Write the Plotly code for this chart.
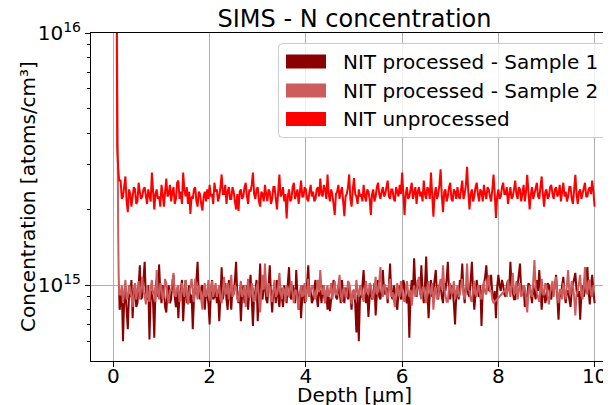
import plotly.graph_objects as go

# ---------------- data (concentration in units of 1e15 atoms/cm^3) ----------------
SCALE = 1e15
GRID_START = 0.15   # µm, first point of the regular depth grid
GRID_STEP = 0.025   # µm

# initial surface spike (leading points)
HEAD_DEPTH_UNPROC = [0.06, 0.07, 0.075, 0.08, 0.10, 0.12]
HEAD_UNPROC = [40.0, 10.0, 5.0, 3.5, 2.9, 2.6]
HEAD_DEPTH_S2 = [0.06, 0.075, 0.09, 0.10, 0.11, 0.12]
HEAD_S2 = [30.0, 6.0, 2.4, 1.6, 1.1, 0.92]
HEAD_DEPTH_S1 = [0.12, 0.13]
HEAD_S1 = [0.95, 0.80]

UNPROC = [
    2.60, 2.20, 2.25, 2.50, 2.70, 2.15, 1.95, 2.40, 2.30, 2.05, 2.20, 2.45, 2.40, 2.10, 2.15, 2.55, 2.35, 2.20, 2.25, 2.40,
    2.45, 2.20, 2.10, 2.40, 2.30, 2.15, 2.80, 2.35, 2.00, 2.30, 2.40, 2.20, 2.25, 2.05, 2.50, 2.30, 2.05, 2.35, 2.65, 2.25,
    2.30, 2.50, 2.15, 2.35, 2.45, 2.10, 2.20, 2.55, 2.60, 2.20, 2.35, 2.10, 2.80, 2.40, 2.25, 2.45, 2.10, 2.35, 1.92, 2.25,
    2.20, 2.40, 2.45, 2.15, 2.05, 2.35, 2.30, 2.10, 1.98, 2.25, 2.35, 2.15, 2.40, 2.20, 2.50, 2.25, 2.30, 2.10, 2.55, 2.35,
    2.40, 2.15, 2.25, 2.45, 2.75, 2.30, 2.30, 2.50, 2.10, 2.35, 2.45, 2.20, 2.20, 2.45, 2.35, 2.15, 2.00, 2.30, 1.97, 2.35,
    2.40, 2.20, 2.25, 2.45, 2.55, 2.25, 2.10, 2.40, 2.35, 2.50, 2.80, 2.30, 2.20, 2.40, 2.45, 2.15, 2.05, 2.35, 2.30, 2.15,
    2.50, 2.30, 2.15, 2.40, 2.35, 2.10, 2.20, 2.45, 2.45, 2.20, 2.00, 2.35, 2.75, 2.25, 2.30, 2.45, 2.15, 2.30, 1.84, 2.25,
    2.40, 2.15, 2.20, 2.45, 2.55, 2.20, 2.30, 2.40, 2.10, 2.35, 2.60, 2.25, 2.25, 2.45, 2.40, 2.20, 2.15, 2.35, 2.50, 2.25,
    2.35, 2.15, 2.20, 2.40, 2.45, 2.25, 2.65, 2.30, 2.25, 2.50, 2.40, 2.20, 2.75, 2.30, 2.15, 2.40, 2.30, 2.10, 1.90, 2.30,
    2.35, 2.50, 2.20, 2.35, 2.45, 2.15, 1.88, 2.25, 2.30, 2.45, 2.75, 2.20, 2.05, 2.40, 2.66, 2.30, 2.25, 2.10, 2.40, 2.25,
    2.30, 2.15, 2.50, 2.25, 2.15, 2.40, 2.35, 2.20, 1.90, 2.30, 2.40, 2.15, 2.25, 2.45, 2.55, 2.30, 2.20, 2.35, 2.45, 2.25,
    2.30, 2.45, 2.60, 2.25, 2.20, 2.40, 2.40, 2.20, 2.15, 2.45, 2.35, 2.25, 2.50, 2.30, 2.80, 2.35, 1.90, 2.30, 2.45, 2.20,
    2.25, 2.40, 2.55, 2.20, 2.30, 2.45, 2.10, 2.35, 2.45, 2.25, 2.35, 2.15, 2.60, 2.30, 2.20, 2.45, 2.40, 2.20, 2.80, 2.30,
    1.87, 2.30, 2.45, 2.20, 2.30, 2.50, 2.88, 2.25, 1.95, 2.35, 2.40, 2.15, 2.25, 2.45, 2.55, 2.20, 2.15, 2.40, 2.35, 2.20,
    2.45, 2.25, 2.20, 2.40, 2.60, 2.20, 2.30, 2.50, 2.95, 2.35, 2.00, 2.30, 2.40, 2.15, 2.25, 2.45, 2.55, 2.30, 2.15, 2.40,
    2.35, 2.15, 2.50, 2.30, 2.20, 2.45, 2.40, 2.25, 2.15, 2.40, 2.75, 2.30, 1.85, 2.25, 2.40, 2.20, 2.25, 2.45, 2.55, 2.30,
    2.30, 2.45, 2.10, 2.30, 2.45, 2.20, 2.25, 2.40, 2.60, 2.30, 2.20, 2.45, 2.40, 2.15, 2.35, 2.50, 2.15, 2.35, 2.74, 2.25,
    2.00, 2.30, 2.45, 2.20, 2.30, 2.40, 2.55, 2.25, 2.20, 2.45, 2.70, 2.30, 2.05, 2.35, 2.40, 2.20, 2.25, 2.45, 2.50, 2.30,
    2.20, 2.40, 2.45, 2.25, 2.30, 2.50, 2.15, 2.35, 2.55, 2.25, 2.35, 2.15, 2.25, 2.45, 2.45, 2.20, 2.10, 2.40, 2.74, 2.30,
    2.10, 2.35, 2.40, 2.20, 2.30, 2.45, 2.55, 2.25, 2.25, 2.40, 2.45, 2.30, 2.60, 2.35, 2.05,
]

SAMPLE1 = [
    0.85, 0.95, 0.60, 0.88, 0.95, 0.80, 0.67, 0.92, 0.90, 1.05, 0.74, 0.95, 1.00, 0.82, 0.85, 1.00, 1.20, 0.88, 0.90, 1.05,
    1.24, 0.90, 0.88, 1.00, 0.61, 0.92, 0.95, 0.85, 0.62, 0.98, 1.05, 0.90, 1.21, 0.95, 0.85, 1.00, 0.95, 0.82, 0.78, 0.95,
    1.00, 0.85, 0.88, 1.02, 1.10, 0.90, 0.82, 0.95, 0.74, 0.92, 0.95, 1.05, 0.72, 0.90, 1.05, 0.85, 0.90, 1.00, 0.85, 0.92,
    0.67, 0.88, 0.95, 1.05, 1.24, 0.92, 0.88, 0.98, 1.00, 0.85, 0.80, 0.95, 0.92, 0.85, 0.70, 0.92, 1.05, 0.88, 0.90, 0.98,
    0.85, 0.95, 0.72, 0.90, 1.18, 0.88, 0.95, 1.02, 0.88, 0.80, 1.05, 0.92, 0.80, 0.98, 0.92, 1.05, 1.24, 0.90, 0.85, 0.95,
    0.72, 0.92, 1.00, 0.85, 0.90, 1.00, 0.80, 0.95, 1.10, 0.88, 0.69, 0.90, 0.95, 1.05, 0.72, 0.95, 1.22, 0.90, 0.88, 1.00,
    1.00, 0.88, 0.85, 1.00, 1.20, 0.92, 0.78, 0.95, 0.95, 0.85, 1.05, 0.90, 0.82, 0.98, 0.90, 0.82, 1.00, 0.92, 0.85, 1.02,
    1.18, 0.90, 0.88, 1.00, 0.95, 0.85, 1.15, 0.92, 0.80, 0.95, 0.74, 0.90, 1.00, 0.85, 0.90, 1.02, 1.20, 0.90, 0.95, 0.85,
    0.88, 0.98, 1.05, 0.90, 0.82, 0.95, 0.95, 0.85, 1.00, 0.92, 0.85, 0.95, 0.80, 0.90, 0.79, 0.88, 0.92, 1.05, 1.00, 0.90,
    0.88, 1.00, 0.95, 0.85, 1.05, 0.92, 0.85, 0.98, 0.95, 0.88, 1.00, 0.90, 0.80, 0.95, 0.95, 0.85, 0.65, 0.92, 0.60, 0.90,
    0.90, 1.00, 1.15, 0.92, 0.85, 0.95, 0.75, 0.90, 1.00, 0.88, 0.90, 1.02, 0.76, 0.92, 1.05, 0.90, 0.88, 0.98, 1.15, 0.95,
    0.92, 0.98, 0.85, 1.00, 1.22, 0.92, 0.88, 1.00, 0.95, 0.85, 0.80, 0.95, 1.00, 0.88, 0.90, 1.05, 1.00, 0.88, 0.85, 0.95,
    0.62, 0.92, 1.05, 0.95, 1.28, 0.98, 0.90, 1.05, 1.00, 0.92, 1.20, 0.95, 0.85, 1.00, 1.30, 0.95, 0.74, 0.92, 1.05, 0.90,
    0.95, 1.05, 1.15, 0.92, 0.88, 1.00, 1.00, 0.90, 0.85, 1.02, 0.95, 1.05, 1.24, 0.95, 0.88, 1.00, 0.95, 0.85, 0.70, 0.92,
    0.95, 0.88, 1.05, 1.00, 1.22, 0.95, 0.85, 0.98, 1.00, 0.92, 0.90, 1.05, 1.24, 0.95, 0.80, 0.92, 1.05, 0.95, 0.90, 1.00,
    0.69, 0.95, 1.00, 1.08, 1.20, 1.00, 0.95, 1.05, 1.10, 0.92, 0.88, 0.95, 0.74, 0.98, 1.10, 1.00, 0.95, 1.05, 1.00, 0.92,
    0.90, 1.00, 1.05, 0.95, 1.24, 1.00, 0.95, 0.88, 0.88, 0.98, 1.00, 1.10, 1.22, 0.95, 0.92, 1.00, 0.82, 0.92, 0.90, 1.02,
    1.00, 0.92, 0.85, 1.00, 0.95, 0.88, 1.05, 0.95, 1.15, 0.92, 0.80, 0.95, 0.95, 0.85, 0.90, 1.02, 1.00, 0.90, 0.88, 0.98,
    0.95, 1.00, 1.10, 0.90, 0.73, 0.92, 0.90, 1.00, 1.08, 0.92, 0.85, 0.95, 0.95, 0.88, 0.82, 0.95, 1.00, 1.05, 1.12, 0.95,
    0.90, 0.95, 0.73, 0.92, 1.00, 0.90, 0.95, 1.05, 1.18, 0.95, 0.84, 1.00, 1.10, 0.95, 0.85,
]

SAMPLE2 = [
    0.92, 1.00, 0.85, 0.95, 1.05, 0.88, 0.90, 1.00, 0.98, 0.90, 0.82, 0.96, 1.02, 0.88, 0.95, 1.04, 0.88, 0.98, 1.08, 0.94,
    0.92, 0.84, 1.00, 0.90, 0.86, 0.98, 1.05, 0.92, 0.95, 0.86, 1.15, 0.94, 0.88, 1.02, 0.98, 0.88, 0.90, 1.06, 1.02, 0.90,
    0.85, 0.96, 0.95, 1.04, 1.12, 0.92, 0.90, 0.98, 1.00, 0.86, 0.88, 1.02, 0.96, 0.90, 1.05, 0.92, 0.84, 0.94, 0.98, 1.06,
    0.92, 0.86, 1.06, 0.95, 0.88, 1.00, 0.97, 0.88, 0.80, 0.94, 1.02, 0.90, 0.93, 1.05, 0.87, 0.96, 1.04, 0.90, 0.95, 1.02,
    0.90, 0.97, 1.00, 0.88, 0.85, 0.96, 1.08, 0.92, 0.94, 1.02, 0.88, 0.95, 1.10, 0.90, 0.92, 1.00, 0.98, 0.88, 0.86, 0.96,
    1.04, 0.90, 0.93, 1.00, 0.82, 0.94, 1.06, 0.90, 0.90, 1.02, 0.97, 0.86, 0.88, 0.98, 1.02, 0.88, 0.78, 0.95, 1.10, 0.96,
    1.22, 0.98, 0.90, 1.02, 0.98, 0.88, 0.86, 0.96, 1.05, 0.90, 0.92, 1.00, 1.12, 0.94, 0.88, 0.98, 0.96, 0.86, 1.00, 0.92,
    0.90, 0.98, 1.04, 0.92, 0.85, 0.96, 0.95, 0.88, 0.80, 0.94, 1.00, 0.90, 0.92, 1.02, 0.86, 0.95, 1.06, 0.90, 0.94, 1.00,
    0.98, 0.90, 0.88, 0.98, 1.05, 0.94, 1.15, 0.96, 0.92, 1.00, 0.85, 0.94, 1.00, 0.90, 0.94, 1.02, 0.88, 0.96, 1.04, 0.92,
    0.92, 1.00, 1.10, 0.92, 0.86, 0.96, 0.98, 0.90, 0.90, 1.04, 1.02, 0.92, 0.84, 0.95, 0.96, 0.88, 1.05, 0.94, 0.90, 1.00,
    0.98, 0.90, 0.86, 0.96, 1.04, 0.94, 0.92, 1.02, 1.00, 0.90, 0.88, 0.98, 1.08, 0.92, 0.95, 1.04, 1.18, 0.96, 0.90, 1.00,
    1.00, 0.92, 0.88, 1.00, 1.06, 0.90, 0.94, 0.88, 0.82, 0.95, 1.02, 0.92, 0.90, 1.04, 0.97, 0.88, 0.86, 0.96, 1.04, 0.94,
    0.90, 0.96, 0.83, 0.94, 1.00, 0.90, 0.94, 1.02, 1.08, 0.92, 0.88, 0.98, 0.98, 0.90, 0.85, 0.96, 1.04, 0.94, 0.92, 1.02,
    0.80, 0.94, 0.98, 0.88, 0.90, 1.00, 1.06, 0.96, 1.20, 0.98, 0.92, 0.86, 0.86, 0.98, 1.02, 0.92, 0.95, 1.04, 0.88, 0.96,
    1.00, 0.90, 0.92, 1.00, 1.06, 0.92, 0.88, 0.98, 1.22, 0.96, 0.95, 0.88, 0.86, 0.96, 1.04, 0.92, 0.90, 1.00, 0.98, 0.90,
    0.88, 0.96, 1.04, 0.94, 0.92, 1.02, 1.10, 0.94, 0.96, 0.88, 0.85, None, None, None, None, None, None, None, None, None,
    0.96, 0.90, 1.05, 0.96, 0.90, 1.00, 1.12, 0.92, 0.94, 1.04, 0.88, 0.96, 1.02, 0.90, 0.92, 1.00, 0.98, 0.88, 0.78, 0.94,
    1.00, 0.92, 0.90, 1.04, 1.26, 0.98, 0.94, 0.88, 0.86, 0.96, 1.06, 0.92, 0.92, 1.02, 1.00, 0.90, 0.84, 0.94, 0.98, 1.04,
    0.90, 0.98, 1.08, 0.92, 0.85, 0.96, 0.96, 0.88, 1.02, 0.94, 0.88, 1.00, 1.15, 0.94, 0.92, 1.04, 1.00, 0.90, 0.76, 0.92,
    0.95, 1.02, 1.10, 0.92, 0.88, 1.00, 1.18, 0.96, 0.92, 1.04, 1.05, 0.92, 0.90, 1.00, 0.98,
]

SERIES_NAMES = ["NIT processed - Sample 1", "NIT processed - Sample 2", "NIT unprocessed"]
COLORS = ["#8B0000", "#CD5C5C", "#FF0000"]
X_TICKS = [0, 2, 4, 6, 8, 10]
Y_TICKS = [1e15, 1e16]
Y_TICK_TEXT = ["10<sup>15</sup>", "10<sup>16</sup>"]


def depth_grid(n):
    return [round(GRID_START + GRID_STEP * i, 4) for i in range(n)]


def scaled(vals):
    return [None if v is None else v * SCALE for v in vals]


# ---------------- figure ----------------
# The page body adds an 8px offset; the figure is sized so it ends exactly at the window edge.
OFF = 8
W, H = 611 - OFF, 405 - OFF
PLOT_L, PLOT_R, PLOT_T, PLOT_B = 91, 610, 33, 361        # target plot box in window pixels
L, T = PLOT_L - OFF, PLOT_T - OFF
R, B = W - (PLOT_R - OFF), H - (PLOT_B - OFF)
PW, PH = W - L - R, H - T - B
FONT = "DejaVu Sans"


def px(xp):
    return (xp - PLOT_L) / PW


def py(yp):
    return (PLOT_B - yp) / PH


fig = go.Figure()
fig.add_trace(go.Scatter(x=HEAD_DEPTH_S1 + depth_grid(len(SAMPLE1)), y=scaled(HEAD_S1 + SAMPLE1),
                         mode="lines", line=dict(color=COLORS[0], width=2), name=SERIES_NAMES[0],
                         showlegend=False))
fig.add_trace(go.Scatter(x=HEAD_DEPTH_S2 + depth_grid(len(SAMPLE2)), y=scaled(HEAD_S2 + SAMPLE2),
                         mode="lines", line=dict(color=COLORS[1], width=2), name=SERIES_NAMES[1],
                         showlegend=False, connectgaps=True))
fig.add_trace(go.Scatter(x=HEAD_DEPTH_UNPROC + depth_grid(len(UNPROC)), y=scaled(HEAD_UNPROC + UNPROC),
                         mode="lines", line=dict(color=COLORS[2], width=2), name=SERIES_NAMES[2],
                         showlegend=False))

shapes = []
annotations = []

# legend box (rounded)
bx0, by0, bx1, by1, rr = 278.5, 43.5, 608.5, 137.5, 4
path = (f"M{px(bx0 + rr)},{py(by0)} L{px(bx1 - rr)},{py(by0)} Q{px(bx1)},{py(by0)} {px(bx1)},{py(by0 + rr)} "
        f"L{px(bx1)},{py(by1 - rr)} Q{px(bx1)},{py(by1)} {px(bx1 - rr)},{py(by1)} "
        f"L{px(bx0 + rr)},{py(by1)} Q{px(bx0)},{py(by1)} {px(bx0)},{py(by1 - rr)} "
        f"L{px(bx0)},{py(by0 + rr)} Q{px(bx0)},{py(by0)} {px(bx0 + rr)},{py(by0)} Z")
shapes.append(dict(type="path", xref="paper", yref="paper", path=path,
                   line=dict(color="#cccccc", width=1), fillcolor="rgba(255,255,255,0.8)", layer="above"))
row_centers = [61.5, 90.5, 119.0]
for name, col, yc in zip(SERIES_NAMES, COLORS, row_centers):
    shapes.append(dict(type="rect", xref="paper", yref="paper",
                       x0=px(286), x1=px(326), y0=py(yc - 7), y1=py(yc + 7),
                       line=dict(width=0), fillcolor=col, layer="above"))
    annotations.append(dict(text=name, xref="paper", yref="paper", x=px(341), y=py(yc),
                            xanchor="left", yanchor="middle", showarrow=False,
                            font=dict(family=FONT, size=20, color="black")))

# axis titles
annotations.append(dict(text="Depth [µm]", xref="paper", yref="paper", x=px(354), y=py(395),
                        xanchor="center", yanchor="middle", showarrow=False,
                        font=dict(family=FONT, size=20, color="black")))
annotations.append(dict(text="Concentration [atoms/cm³]", xref="paper", yref="paper", x=px(28), y=0.5,
                        xanchor="center", yanchor="middle", showarrow=False, textangle=-90,
                        font=dict(family=FONT, size=20, color="black")))

fig.update_layout(
    width=W, height=H,
    margin=dict(l=L, r=R, t=T, b=B, pad=0, autoexpand=False),
    paper_bgcolor="white", plot_bgcolor="white",
    font=dict(family=FONT, size=20, color="black"),
    title=dict(text="SIMS - N concentration", x=(354.5 - OFF) / W, xref="container", xanchor="center",
               y=1 - (19 - OFF) / H, yref="container", yanchor="middle",
               font=dict(family=FONT, size=24, color="black")),
    showlegend=False,
    shapes=shapes,
    annotations=annotations,
)
fig.update_xaxes(range=[-0.465, 10.32], tickvals=X_TICKS, ticktext=[str(t) for t in X_TICKS],
                 automargin=False,
                 showgrid=True, gridcolor="#b0b0b0", gridwidth=1,
                 showline=True, linecolor="black", linewidth=1, mirror=True,
                 ticks="outside", ticklen=5, tickwidth=1, tickcolor="black",
                 tickfont=dict(family=FONT, size=20, color="black"), zeroline=False)
fig.update_yaxes(type="log", range=[14.70, 16.0], tickvals=Y_TICKS, ticktext=Y_TICK_TEXT,
                 automargin=False,
                 showgrid=True, gridcolor="#b0b0b0", gridwidth=1,
                 showline=True, linecolor="black", linewidth=1, mirror=False,
                 ticks="outside", ticklen=5, tickwidth=1, tickcolor="black",
                 tickfont=dict(family=FONT, size=20, color="black"),
                 minor=dict(ticks="outside", ticklen=3, tickwidth=0.8, tickcolor="black",
                            dtick="D1", showgrid=False))
try:
    fig.update_xaxes(ticklabelstandoff=-8)
except Exception:
    pass

fig.write_html("out.html")
